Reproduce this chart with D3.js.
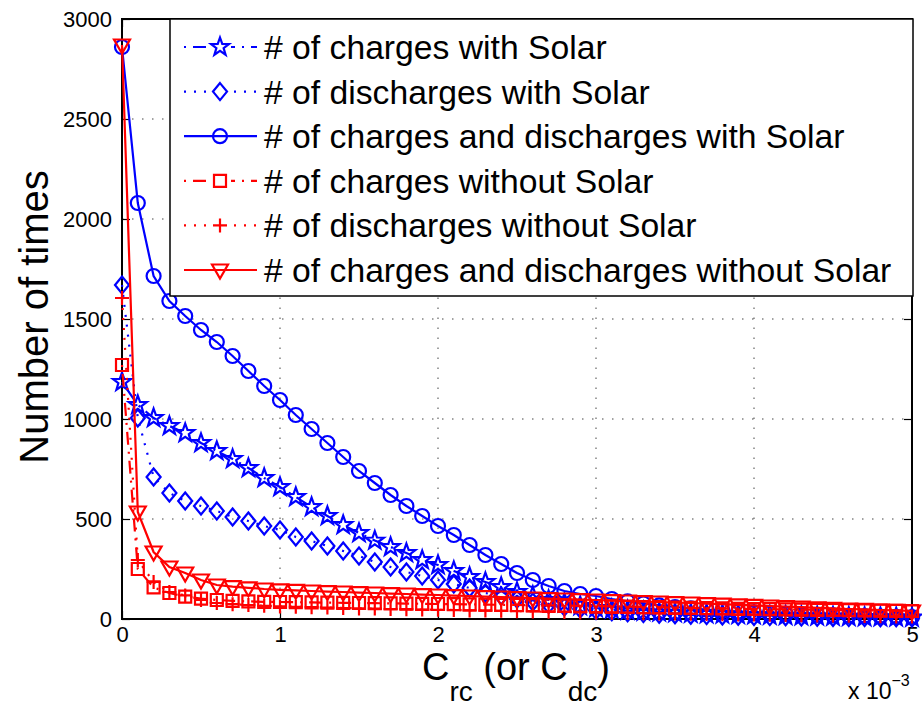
<!DOCTYPE html>
<html>
<head>
<meta charset="utf-8">
<script src="https://cdn.jsdelivr.net/npm/d3@7"></script>
<style>
  body { margin: 0; background: #fff; }
  svg { display: block; font-family: "Liberation Sans", Arial, Helvetica, sans-serif; }
</style>
</head>
<body>
<svg id="chart" width="922" height="710"></svg>
<script>
// Threshold C_rc (or C_dc), in units of 10^-3
const crc = [0.0,0.1,0.2,0.3,0.4,0.5,0.6,0.7,0.8,0.9,1.0,1.1,1.2,1.3,1.4,1.5,1.6,1.7,1.8,1.9,2.0,
             2.1,2.2,2.3,2.4,2.5,2.6,2.7,2.8,2.9,3.0,3.1,3.2,3.3,3.4,3.5,3.6,3.7,3.8,3.9,4.0,
             4.1,4.2,4.3,4.4,4.5,4.6,4.7,4.8,4.9,5.0];

const chargesSolar = [1185,1070,1005,965,930,880,840,800,755,705,660,610,560,515,470,430,392,360,330,295,270,
                      240,210,185,160,135,115,95,80,65,55,48,42,37,33,30,27,25,23,21,19,
                      17,16,14,13,12,11,10,9,8,7];
const dischargesSolar = [1670,1005,710,630,590,565,540,510,490,465,445,410,390,365,340,315,285,260,235,215,195,
                         175,155,130,115,100,85,72,60,50,42,36,31,27,24,21,19,17,15,14,13,
                         12,11,10,9,8,7,7,6,6,5];
const bothSolar = [2860,2080,1715,1590,1515,1445,1385,1315,1240,1165,1095,1020,950,880,810,740,680,620,565,515,465,
                   420,370,320,275,230,195,165,140,125,115,100,88,78,68,60,53,47,42,37,33,
                   29,26,23,20,18,16,14,12,11,10];
const chargesNoSolar = [1270,250,158,130,112,102,95,91,88,86,85,84,83,82,81,80,79,78,77,76,75,
                        74,73,72,71,70,69,68,67,66,65,63,62,60,59,57,56,54,53,51,50,
                        49,48,47,46,45,44,43,42,41,40];
const dischargesNoSolar = [1605,295,185,135,118,95,80,74,70,66,63,61,59,57,55,53,52,50,49,47,46,
                           45,43,42,41,39,38,36,35,33,32,31,30,29,28,27,26,25,24,23,22,
                           21,20,19,18,17,16,15,14,13,12];
const bothNoSolar = [2870,535,335,260,230,195,170,162,156,150,146,143,140,137,135,132,130,127,125,122,120,
                     117,115,112,110,107,105,102,100,97,95,92,90,87,85,82,80,77,74,71,68,
                     65,62,59,56,53,50,48,45,43,40];

const seriesLabels = [
  "# of charges with Solar",
  "# of discharges with Solar",
  "# of charges and discharges with Solar",
  "# of charges without Solar",
  "# of discharges without Solar",
  "# of charges and discharges without Solar"
];
const xTicks = [0,1,2,3,4,5];
const yTicks = [0,500,1000,1500,2000,2500,3000];

const BLUE = "#0000ff", RED = "#ff0000";
const DASHDOT = "2,7,13,7", DOTTED = "2,8";

const series = [
  { label: seriesLabels[0], values: chargesSolar,      color: BLUE, dash: DASHDOT, marker: "star" },
  { label: seriesLabels[1], values: dischargesSolar,   color: BLUE, dash: DOTTED,  marker: "diamond" },
  { label: seriesLabels[2], values: bothSolar,         color: BLUE, dash: null,    marker: "circle" },
  { label: seriesLabels[3], values: chargesNoSolar,    color: RED,  dash: DASHDOT, marker: "square" },
  { label: seriesLabels[4], values: dischargesNoSolar, color: RED,  dash: DOTTED,  marker: "plus" },
  { label: seriesLabels[5], values: bothNoSolar,       color: RED,  dash: null,    marker: "triangle" }
];

// marker outlines, centred on (0,0)
function markerPath(kind) {
  const p = d3.path();
  if (kind === "circle") {
    p.moveTo(7, 0); p.arc(0, 0, 7, 0, 2 * Math.PI); p.closePath();
  } else if (kind === "star") {
    const R = 9.5, r = 3.8;
    for (let k = 0; k < 10; k++) {
      const a = -Math.PI / 2 + k * Math.PI / 5, rr = k % 2 ? r : R;
      k ? p.lineTo(rr * Math.cos(a), rr * Math.sin(a)) : p.moveTo(rr * Math.cos(a), rr * Math.sin(a));
    }
    p.closePath();
  } else if (kind === "diamond") {
    p.moveTo(0, -8.5); p.lineTo(7, 0); p.lineTo(0, 8.5); p.lineTo(-7, 0); p.closePath();
  } else if (kind === "square") {
    p.rect(-6, -6, 12, 12);
  } else if (kind === "plus") {
    p.moveTo(-7, 0); p.lineTo(7, 0); p.moveTo(0, -7); p.lineTo(0, 7);
  } else if (kind === "triangle") {
    p.moveTo(-8, -5.5); p.lineTo(8, -5.5); p.lineTo(0, 8.5); p.closePath();
  }
  return p.toString();
}

const svg = d3.select("#chart");
const plot = { left: 122, right: 912, top: 19, bottom: 619 };
const x = d3.scaleLinear().domain([0, 5]).range([plot.left, plot.right]);
const y = d3.scaleLinear().domain([0, 3000]).range([plot.bottom, plot.top]);

// dotted grid
const grid = svg.append("g").attr("stroke", "#444").attr("stroke-width", 1)
  .attr("stroke-dasharray", "1.5,8.5");
grid.selectAll("line.v").data(xTicks.filter(t => t > 0 && t < 5)).join("line")
  .attr("x1", d => x(d)).attr("x2", d => x(d)).attr("y1", plot.bottom).attr("y2", plot.top);
grid.selectAll("line.h").data(yTicks.filter(t => t > 0 && t < 3000)).join("line")
  .attr("x1", plot.left).attr("x2", plot.right).attr("y1", d => y(d)).attr("y2", d => y(d));

// axes with inward ticks on all four sides
const fontTick = 22;
const gB = svg.append("g").attr("transform", `translate(0,${plot.bottom})`)
  .call(d3.axisBottom(x).tickValues(xTicks).tickSize(-8).tickPadding(7).tickFormat(d3.format("d")));
const gL = svg.append("g").attr("transform", `translate(${plot.left},0)`)
  .call(d3.axisLeft(y).tickValues(yTicks).tickSize(-8).tickPadding(10).tickFormat(d3.format("d")));
const gT = svg.append("g").attr("transform", `translate(0,${plot.top})`)
  .call(d3.axisTop(x).tickValues(xTicks).tickSize(-8).tickFormat(""));
const gR = svg.append("g").attr("transform", `translate(${plot.right},0)`)
  .call(d3.axisRight(y).tickValues(yTicks).tickSize(-8).tickFormat(""));
[gB, gL, gT, gR].forEach(g => {
  g.select(".domain").remove();
  g.selectAll(".tick line").attr("stroke", "#000").attr("stroke-width", 1.2);
  g.selectAll(".tick text").attr("fill", "#000").attr("font-size", fontTick)
    .attr("font-family", "'Liberation Sans', Arial, Helvetica, sans-serif");
});
svg.append("rect").attr("x", plot.left).attr("y", plot.top)
  .attr("width", plot.right - plot.left).attr("height", plot.bottom - plot.top)
  .attr("fill", "none").attr("stroke", "#000").attr("stroke-width", 2);

// data lines and markers
const line = d3.line().x((d, i) => x(crc[i])).y(d => y(d));
series.forEach(s => {
  const g = svg.append("g");
  g.append("path").datum(s.values).attr("d", line)
    .attr("fill", "none").attr("stroke", s.color).attr("stroke-width", 2.2)
    .attr("stroke-dasharray", s.dash);
  g.selectAll("path.m").data(s.values).join("path").attr("class", "m")
    .attr("d", markerPath(s.marker))
    .attr("transform", (d, i) => `translate(${x(crc[i])},${y(d)})`)
    .attr("fill", "none").attr("stroke", s.color).attr("stroke-width", 2.2);
});

// legend
const leg = { x0: 170, y0: 19, x1: 913, y1: 296 };
svg.append("rect").attr("x", leg.x0).attr("y", leg.y0)
  .attr("width", leg.x1 - leg.x0).attr("height", leg.y1 - leg.y0)
  .attr("fill", "#fff").attr("stroke", "#000").attr("stroke-width", 1.5);
const rowY = i => 47 + i * 44.6;
series.forEach((s, i) => {
  const g = svg.append("g").attr("transform", `translate(0,${rowY(i)})`);
  g.append("line").attr("x1", 184).attr("x2", 257).attr("y1", 0).attr("y2", 0)
    .attr("stroke", s.color).attr("stroke-width", 2.2).attr("stroke-dasharray", s.dash);
  if (s.dash) {
    g.append("rect").attr("x", 209).attr("y", -10).attr("width", 22).attr("height", 20).attr("fill", "#fff");
  }
  g.append("path").attr("d", markerPath(s.marker)).attr("transform", "translate(220,0)")
    .attr("fill", "none").attr("stroke", s.color).attr("stroke-width", 2.2);
  g.append("text").attr("x", 264).attr("y", 12).attr("font-size", 33.7).attr("fill", "#000")
    .text(s.label);
});

// axis titles
svg.append("text").attr("transform", "translate(48,317) rotate(-90)")
  .attr("text-anchor", "middle").attr("font-size", 40).attr("fill", "#000")
  .text("Number of times");

const xt = svg.append("text").attr("x", 516).attr("y", 680)
  .attr("text-anchor", "middle").attr("font-size", 38).attr("fill", "#000");
xt.append("tspan").text("C");
xt.append("tspan").attr("font-size", 28).attr("dy", 21).text("rc");
xt.append("tspan").attr("dy", -21).text(" (or C");
xt.append("tspan").attr("font-size", 28).attr("dy", 21).text("dc");
xt.append("tspan").attr("dy", -21).text(")");

const mult = svg.append("text").attr("x", 848).attr("y", 699).attr("font-size", 23).attr("fill", "#000");
mult.append("tspan").text("x 10");
mult.append("tspan").attr("font-size", 16).attr("dy", -13).text("\u22123");
</script>
</body>
</html>
